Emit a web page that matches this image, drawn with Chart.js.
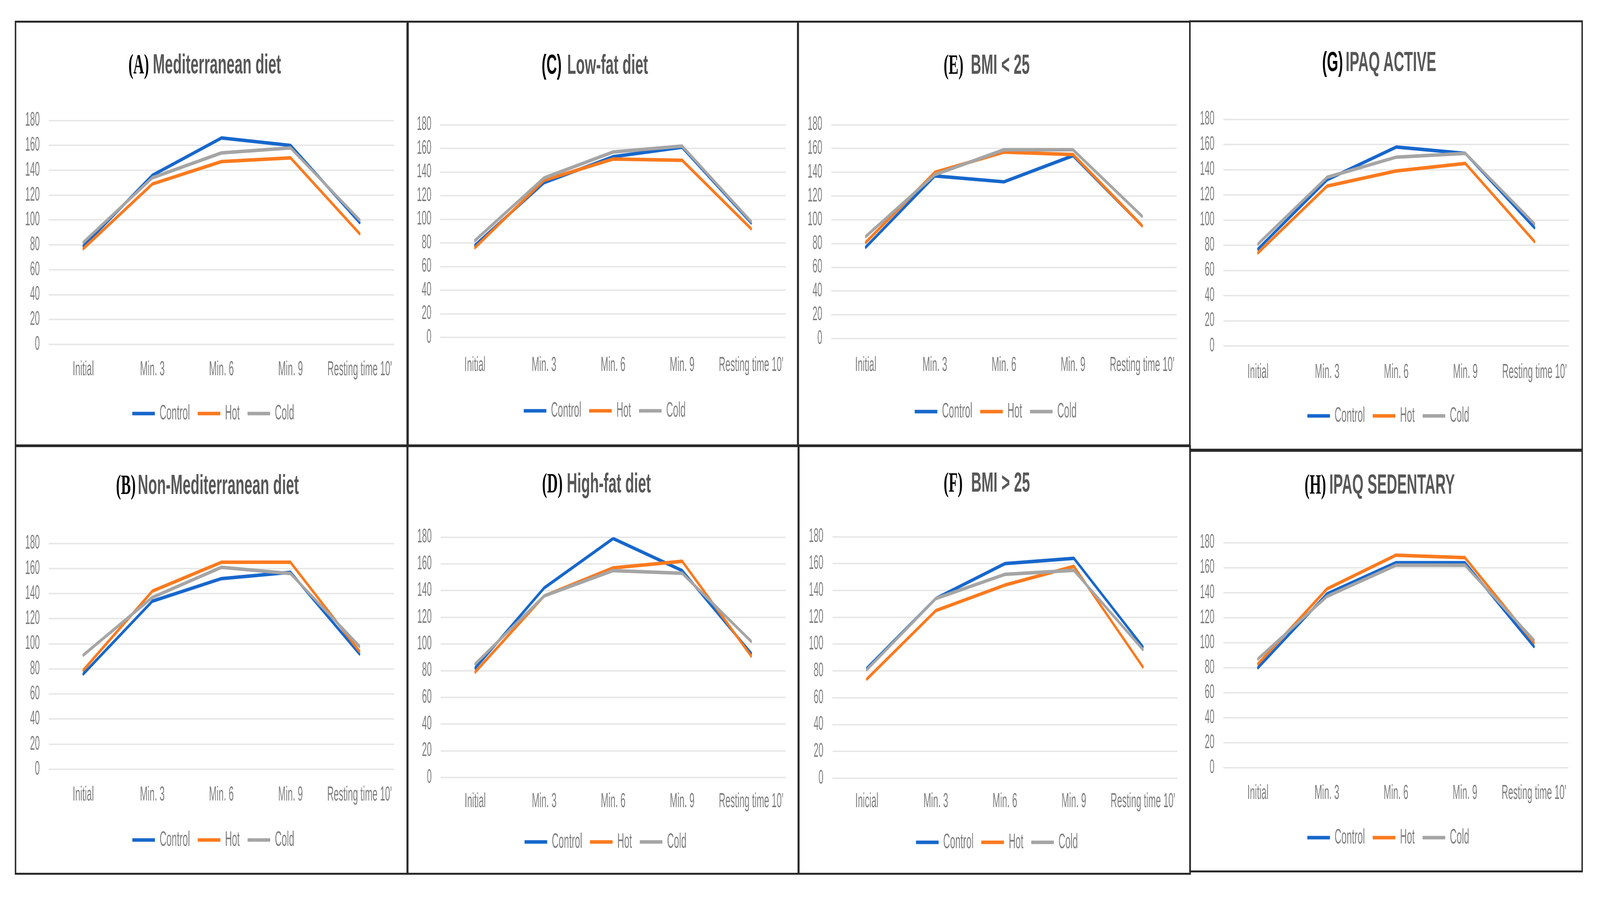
<!DOCTYPE html>
<html><head><meta charset="utf-8">
<script src="https://cdn.jsdelivr.net/npm/chart.js@4.4.1/dist/chart.umd.min.js"></script>
<style>
html,body{margin:0;padding:0;background:#fff;overflow:hidden;}
#root{position:absolute;left:0;top:0;width:5515px;height:2297px;overflow:hidden;transform-origin:0 0;background:#fff;}
.panel{position:absolute;border:5px solid #2a2a2a;box-sizing:border-box;}
.title{position:absolute;width:1200px;text-align:center;white-space:nowrap;line-height:90px;height:90px;}
.title .in{display:inline-block;transform:scaleX(0.71);transform-origin:50% 50%;font-family:'Liberation Sans',Arial,sans-serif;font-weight:bold;font-size:70px;color:#585858;}
.title .lt{font-family:'Liberation Serif','Times New Roman',serif;font-size:72px;color:#000;}
.title .lt.sans{font-family:'Liberation Sans',Arial,sans-serif;font-size:70px;}
.wrap{position:absolute;transform-origin:0 0;}
</style></head><body>
<div id="root"></div>
<script>
// ---------- data ----------
const categories  = ['Initial', 'Min. 3', 'Min. 6', 'Min. 9', "Resting time 10'"];
const categoriesF = ['Inicial', 'Min. 3', 'Min. 6', 'Min. 9', "Resting time 10'"];
const seriesNames  = ['Control', 'Hot', 'Cold'];
const seriesColors = ['#1767CC', '#FA7A1E', '#A5A5A5'];
const yMin = 0, yMax = 180, yStep = 20;

// (A) Mediterranean diet
const controlA = [79, 136, 166, 160, 98];
const hotA     = [77, 129, 147, 150, 89];
const coldA    = [82, 134, 154, 158, 100];
// (B) Non-Mediterranean diet
const controlB = [76, 134, 152, 157, 92];
const hotB     = [79, 142, 165, 165, 94];
const coldB    = [91, 137, 161, 156, 98];
// (C) Low-fat diet
const controlC = [78, 131, 153, 161, 97];
const hotC     = [76, 133, 151, 150, 92];
const coldC    = [82, 135, 157, 162, 98];
// (D) High-fat diet
const controlD = [82, 142, 179, 155, 93];
const hotD     = [79, 136, 157, 162, 91];
const coldD    = [85, 136, 155, 153, 102];
// (E) BMI < 25
const controlE = [77, 137, 132, 154, 95];
const hotE     = [81, 140, 157, 155, 95];
const coldE    = [86, 138, 159, 159, 103];
// (F) BMI > 25
const controlF = [82, 134, 160, 164, 98];
const hotF     = [74, 125, 144, 158, 83];
const coldF    = [81, 134, 152, 155, 96];
// (G) IPAQ ACTIVE
const controlG = [77, 132, 158, 153, 94];
const hotG     = [74, 127, 139, 145, 83];
const coldG    = [81, 134, 150, 153, 97];
// (H) IPAQ SEDENTARY
const controlH = [80, 139, 164, 164, 97];
const hotH     = [83, 143, 170, 168, 100];
const coldH    = [87, 137, 162, 162, 102];

// ---------- layout (pixels) ----------
const panels = [
  {letter:'(A)', serif:true,  title:'Mediterranean diet',     gap:19, cats:categories,  values:[controlA,hotA,coldA],
   box:[53,55,1406,1140],  plotL:168,  plotR:1359, yTop:272,  yBot:882,  xLab:65, leg:177, legC:735,  tx:706,  ty:163},
  {letter:'(C)', serif:false, title:'Low-fat diet',           gap:27, cats:categories,  values:[controlC,hotC,coldC],
   box:[1403,55,2749,1140], plotL:1518, plotR:2708, yTop:283, yBot:864,  xLab:72, leg:188, legC:2084, tx:2050, ty:164},
  {letter:'(E)', serif:true,  title:'BMI < 25',               gap:36, cats:categories,  values:[controlE,hotE,coldE],
   box:[2751,55,4101,1140], plotL:2865, plotR:4056, yTop:283, yBot:867,  xLab:69, leg:187, legC:3432, tx:3401, ty:164},
  {letter:'(G)', serif:false, title:'IPAQ ACTIVE',            gap:13, cats:categories,  values:[controlG,hotG,coldG],
   box:[4101,54,5453,1151], plotL:4217, plotR:5408, yTop:269, yBot:886,  xLab:68, leg:179, legC:4785, tx:4754, ty:157},
  {letter:'(B)', serif:true,  title:'Non-Mediterranean diet', gap:10, cats:categories,  values:[controlB,hotB,coldB],
   box:[53,1142,1405,2237],  plotL:168,  plotR:1358, yTop:1355, yBot:1970, xLab:66, leg:181, legC:735,  tx:715,  ty:1240},
  {letter:'(D)', serif:true,  title:'High-fat diet',          gap:20, cats:categories,  values:[controlD,hotD,coldD],
   box:[1403,1142,2751,2237], plotL:1519, plotR:2708, yTop:1339, yBot:1991, xLab:62, leg:165, legC:2087, tx:2056, ty:1236},
  {letter:'(F)', serif:true,  title:'BMI > 25',               gap:41, cats:categoriesF, values:[controlF,hotF,coldF],
   box:[2753,1142,4102,2237], plotL:2869, plotR:4058, yTop:1338, yBot:1993, xLab:60, leg:164, legC:3436, tx:3401, ty:1234},
  {letter:'(H)', serif:true,  title:'IPAQ SEDENTARY',         gap:16, cats:categories,  values:[controlH,hotH,coldH],
   box:[4101,1154,5453,2231], plotL:4217, plotR:5406, yTop:1353, yBot:1966, xLab:66, leg:179, legC:4785, tx:4756, ty:1239}
];

const S = 0.6; // horizontal compression of the original figure
const root = document.getElementById('root');
Chart.defaults.font.family = "'Liberation Sans', Arial, Helvetica, sans-serif";
Chart.defaults.color = '#7f7f7f';

// shifts the (library-drawn) legend horizontally to where the original sits
const legendShift = {
  id: 'legendShift',
  afterLayout(chart, args, opts) {
    const lg = chart.legend;
    if (lg && opts.dx) { lg.left += opts.dx; lg.right += opts.dx; }
  }
};

panels.forEach(p => {
  const [L, T, R, B] = p.box;
  const box = document.createElement('div');
  box.className = 'panel';
  box.style.left = (L - 2) + 'px'; box.style.top = (T - 2) + 'px';
  box.style.width = (R - L + 5) + 'px'; box.style.height = (B - T + 5) + 'px';
  root.appendChild(box);

  const t = document.createElement('div');
  t.className = 'title';
  t.style.left = (p.tx - 600) + 'px'; t.style.top = (p.ty - 44) + 'px';
  const inner = document.createElement('span'); inner.className = 'in';
  const lt = document.createElement('span'); lt.className = 'lt' + (p.serif ? '' : ' sans'); lt.textContent = p.letter;
  const tt = document.createElement('span'); tt.textContent = p.title; tt.style.marginLeft = p.gap + 'px';
  inner.append(lt, tt); t.append(inner); root.append(t);

  const fs = 54, lp = 45, padT = 45, padB = 8;
  const legCenter = lp + fs / 2, legH = fs + lp + 10;
  const xAxisH = p.leg - legCenter;
  const cL = L + 8, cR = R - 8, cT = p.yTop - padT;
  const cB = p.yBot + xAxisH + legH + padB;
  const W = Math.round((cR - cL) / S), H = Math.round(cB - cT);
  const wrap = document.createElement('div');
  wrap.className = 'wrap';
  wrap.style.left = cL + 'px'; wrap.style.top = cT + 'px';
  wrap.style.width = W + 'px'; wrap.style.height = H + 'px';
  wrap.style.transform = 'scaleX(' + S + ')';
  const cv = document.createElement('canvas');
  cv.width = W; cv.height = H; cv.style.width = W + 'px'; cv.style.height = H + 'px';
  wrap.append(cv); root.append(wrap);

  const padR = (cR - p.plotR) / S;
  const yW = (p.plotL - cL) / S;
  const dx = (p.legC - (cL + p.plotR) / 2) / S;

  new Chart(cv, {
    type: 'line',
    data: {
      labels: p.cats,
      datasets: seriesNames.map((n, i) => ({
        label: n, data: p.values[i],
        borderColor: seriesColors[i], backgroundColor: seriesColors[i],
        borderWidth: 9, pointRadius: 0, pointHoverRadius: 0, tension: 0, fill: false,
        borderCapStyle: 'round', borderJoinStyle: 'round', order: 3 - i
      }))
    },
    plugins: [legendShift],
    options: {
      responsive: false, animation: false, devicePixelRatio: 1,
      layout: { padding: { left: 0, right: padR, top: padT, bottom: padB } },
      plugins: {
        legendShift: { dx: dx },
        legend: {
          position: 'bottom',
          labels: {
            usePointStyle: true, pointStyle: 'line', pointStyleWidth: 130,
            padding: lp, font: { size: fs }, color: '#7f7f7f',
            sort: (a, b) => a.datasetIndex - b.datasetIndex
          }
        },
        tooltip: { enabled: false },
        title: { display: false }
      },
      scales: {
        x: {
          offset: true,
          grid: { display: false, drawTicks: false },
          border: { display: false },
          ticks: { font: { size: 52 }, color: '#7f7f7f', padding: p.xLab - 31.2, maxRotation: 0, autoSkip: false },
          afterFit: s => { s.height = xAxisH; }
        },
        y: {
          min: yMin, max: yMax,
          grid: { color: '#E8E8E8', lineWidth: 4, drawTicks: false },
          border: { display: false },
          ticks: { stepSize: yStep, autoSkip: false, font: { size: 50 }, color: '#7f7f7f', padding: 31 / S },
          afterFit: s => { s.width = yW; }
        }
      }
    }
  });
});

// the browser window may be narrower than 5515px: fit the figure into the real viewport
function fit() {
  const sx = window.innerWidth / 5515, sy = window.innerHeight / 2297;
  root.style.transform = 'scale(' + sx + ',' + sy + ')';
}
fit();
</script>
</body></html>
